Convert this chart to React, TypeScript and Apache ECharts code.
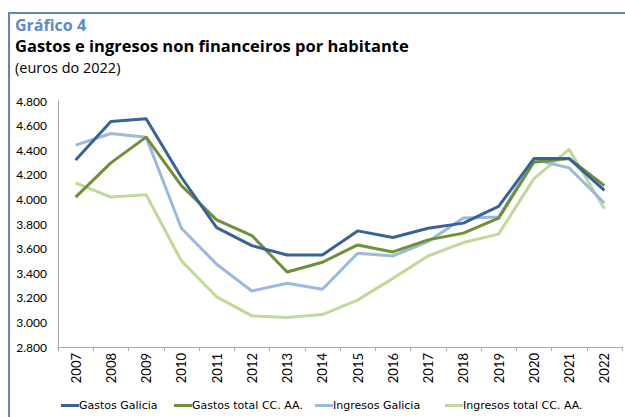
import React, { useEffect, useRef } from "react";
import * as echarts from "echarts";

const years = ["2007","2008","2009","2010","2011","2012","2013","2014","2015","2016","2017","2018","2019","2020","2021","2022"];
const gastosGalicia = [4320, 4634, 4656, 4180, 3771, 3624, 3548, 3548, 3744, 3690, 3766, 3807, 3943, 4332, 4332, 4073];
const gastosTotal = [4019, 4297, 4506, 4112, 3834, 3706, 3410, 3489, 3630, 3573, 3671, 3726, 3848, 4302, 4332, 4112];
const ingresosGalicia = [4441, 4536, 4506, 3766, 3473, 3255, 3318, 3269, 3562, 3540, 3657, 3848, 3856, 4324, 4256, 3971];
const ingresosTotal = [4134, 4019, 4038, 3500, 3208, 3053, 3040, 3064, 3181, 3358, 3540, 3649, 3718, 4169, 4406, 3924];

const seriesNames = ["Gastos Galicia", "Gastos total CC. AA.", "Ingresos Galicia", "Ingresos total CC. AA."];
const colors = ["#36649A", "#6F9036", "#9BB9DE", "#C0D898"];
const legendLefts = [61, 174, 315, 445];

const FONT = "Lato";
const TFONT = "'Open Sans'";
const LFONT = "'DejaVu Sans'";

export default function App() {
  const ref = useRef<HTMLDivElement>(null);
  useEffect(() => {
    document.body.style.margin = "0";
    const chart = echarts.init(ref.current!, null, { renderer: "svg" });
    const data = [gastosGalicia, gastosTotal, ingresosGalicia, ingresosTotal];
    chart.setOption({
      animation: false,
      backgroundColor: "#ffffff",
      textStyle: { fontFamily: FONT },
      graphic: [
        { type: "line", shape: { x1: 9, y1: 13, x2: 9, y2: 417 }, style: { stroke: "#5A88C6", lineWidth: 2 } },
        { type: "line", shape: { x1: 8, y1: 13, x2: 625, y2: 13 }, style: { stroke: "#5A88C6", lineWidth: 2 } },
        { type: "text", left: 15, top: 17, style: { text: "Gráfico 4", font: `bold 16px ${TFONT}`, fill: "#5B8BC8" } },
        { type: "text", left: 15, top: 37, style: { text: "Gastos e ingresos non financeiros por habitante", font: `bold 16.5px ${TFONT}`, fill: "#000000" } },
        { type: "text", left: 15, top: 60, style: { text: "(euros do 2022)", font: `14.5px ${TFONT}`, fill: "#000000" } },
      ],
      legend: seriesNames.map((n, i) => ({
        data: [n],
        left: legendLefts[i],
        top: 400,
        padding: 0,
        icon: "rect",
        itemWidth: 18,
        itemHeight: 3,
        itemGap: 0,
        textStyle: { fontSize: 11, color: "#000", fontFamily: LFONT, padding: [0, 0, 0, -5] },
      })),
      grid: { left: 58, right: 3, top: 101, bottom: 70, containLabel: false },
      xAxis: {
        type: "category",
        data: years,
        boundaryGap: true,
        axisLine: { lineStyle: { color: "#A6A6A6" } },
        axisTick: { show: true, alignWithLabel: false, length: 4, lineStyle: { color: "#A6A6A6" } },
        axisLabel: { rotate: 90, fontSize: 13, color: "#000", margin: 6, fontFamily: FONT },
      },
      yAxis: {
        type: "value",
        min: 2800,
        max: 4800,
        interval: 200,
        splitLine: { show: false },
        axisLine: { show: true, lineStyle: { color: "#A6A6A6" } },
        axisTick: { show: false },
        axisLabel: {
          fontSize: 12,
          color: "#000",
          margin: 11,
          fontFamily: FONT,
          formatter: (v: number) => {
            const s = String(Math.round(v));
            return s.length > 3 ? s.slice(0, s.length - 3) + "." + s.slice(s.length - 3) : s;
          },
        },
      },
      series: seriesNames.map((n, i) => ({
        name: n,
        type: "line",
        data: data[i],
        symbol: "none",
        lineStyle: { width: 3, color: colors[i] },
        itemStyle: { color: colors[i] },
        z: 10 - i,
      })),
    });
    return () => chart.dispose();
  }, []);
  return <div ref={ref} style={{ width: 625, height: 417 }} />;
}
